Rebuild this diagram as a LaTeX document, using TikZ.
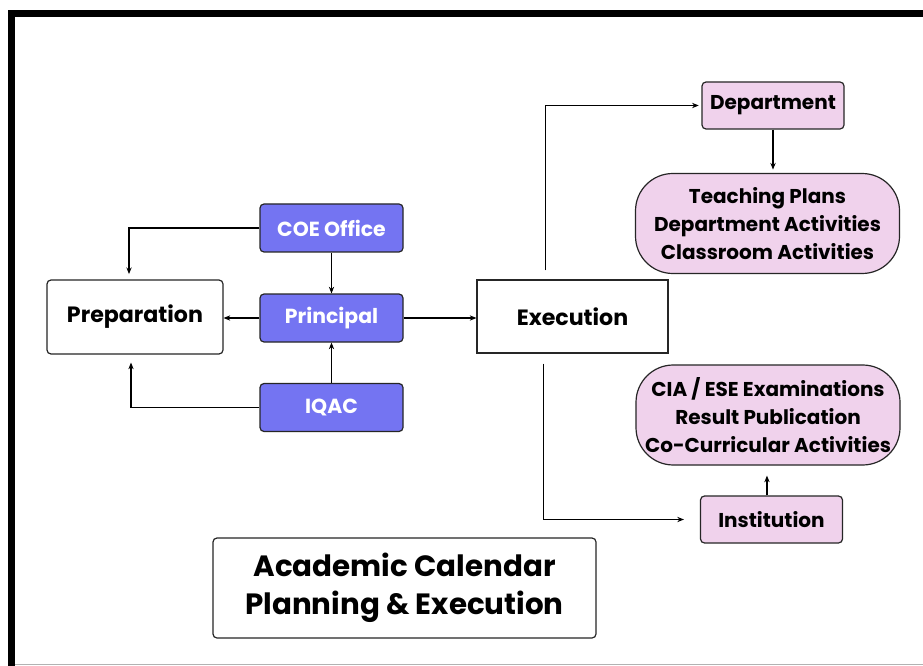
\documentclass[tikz,border=0pt]{standalone}
\usepackage{fontspec}
\setmainfont{Poppins}
\usepackage{tikz}
\usetikzlibrary{arrows.meta}

\definecolor{boxblue}{RGB}{116,116,242}
\definecolor{boxpink}{RGB}{240,210,236}

\tikzset{
  base/.style={draw=black!85, line width=0.9pt, align=center, inner sep=2pt,
    font=\fontsize{15}{17}\selectfont\bfseries},
  whitebox/.style={base, fill=white, rounded corners=3pt},
  bluebox/.style={base, fill=boxblue, text=white, rounded corners=3pt,
    minimum width=107.25pt, minimum height=36pt, font=\fontsize{15.3}{17}\selectfont\bfseries},
  pinkbox/.style={base, fill=boxpink, rounded corners=3pt,
    minimum width=106.5pt, minimum height=35.25pt},
  pill/.style={base, fill=boxpink, rounded corners=28pt,
    minimum width=198pt, minimum height=75pt, font=\fontsize{15}{21}\selectfont\bfseries},
  link/.style={->, line width=0.9pt}
}

\begin{document}
\begin{tikzpicture}[x=0.75pt, y=-0.75pt, >={Stealth[length=5pt,width=4pt]}]
            \useasboundingbox (0,0) rectangle (923,666);
            \fill[white] (0,0) rectangle (923,666);
            \draw[line width=5.25pt] (11.5,666) |- (923,14);
            \draw[black!30, line width=0.75pt] (15,664.5) -- (923,664.5);

            \node[whitebox, minimum width=132pt, minimum height=55.5pt,
              font=\fontsize{16.6}{19}\selectfont\bfseries] (prep) at (135,317) {Preparation};
            \node[bluebox] (coe) at (331.5,228) {COE Office};
            \node[bluebox] (princ) at (331.5,318) {Principal};
            \node[bluebox] (iqac) at (331.5,407.5) {IQAC};
            \node[base, fill=white, minimum width=143.25pt, minimum height=54.75pt,
              font=\fontsize{16.6}{19}\selectfont\bfseries] (exec) at (572.5,316.5) {Execution};
            \node[pinkbox] (dept) at (773,105.5) {Department};
            \node[pill] (teach) at (767.5,223.5) {Teaching Plans\\Department Activities\\Classroom Activities};
            \node[pill, inner sep=0pt] (cia) at (768,415) {CIA / ESE Examinations\\Result Publication\\Co-Curricular Activities};
            \node[pinkbox] (inst) at (771.5,519.5) {Institution};
            \node[whitebox, minimum width=287.25pt, minimum height=75pt,
              font=\fontsize{22}{28.5}\selectfont\bfseries] (title) at (404.5,588) {Academic Calendar\\Planning \& Execution};

            \draw[link, shorten >=4pt] (coe.west) -| ([xshift=-4.5pt]prep.north);
            \draw[link, shorten >=6pt] (iqac.west) -| ([xshift=-3pt]prep.south);
            \draw[link] (coe) -- (princ);
            \draw[link] (iqac) -- (princ);
            \draw[link] (princ.west) -- (princ.west -| prep.east);
            \draw[link] (princ.east) -- (princ.east -| exec.west);
            \draw[link, shorten >=2pt] ([xshift=-20pt,yshift=6.75pt]exec.north) |- (dept.west);
            \draw[link, shorten >=2.5pt] (dept.south) -- (dept.south |- teach.north);
            \draw[link, shorten >=12pt] ([xshift=-22pt,yshift=-7.5pt]exec.south) |- (inst.west);
            \draw[link, shorten >=7.5pt] ([xshift=-3.4pt]inst.north) -- ([xshift=-3.4pt]inst.north |- cia.south);
        \end{tikzpicture}
\end{document}
